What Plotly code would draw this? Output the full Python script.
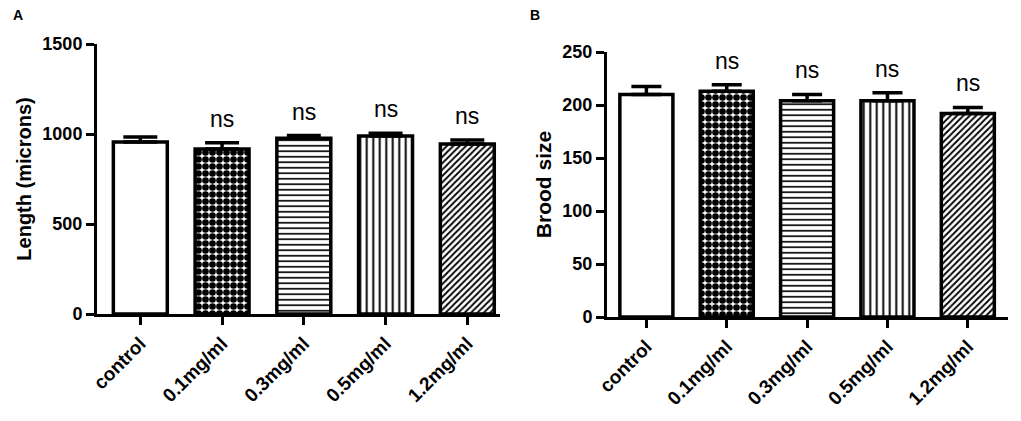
import plotly.graph_objects as go
from plotly.subplots import make_subplots

# data
groups = ["control", "0.1mg/ml", "0.3mg/ml", "0.5mg/ml", "1.2mg/ml"]
length_mean = [955, 917, 976, 989, 944]
length_sem = [28, 35, 15, 15, 22]
brood_mean = [210, 213, 204, 204, 192]
brood_sem = [7.5, 6, 6, 7.5, 5.7]
sig_labels = ["", "ns", "ns", "ns", "ns"]
patterns = ["", ".", "-", "|", "/"]

FONT = "Liberation Sans, Arial, sans-serif"
W, H = 1021, 421
OFF = 8  # page body margin shifts the figure, compensate for it


def px_x(v):
    return (v - OFF) / W


def px_y(v):
    return (H - (v - OFF)) / H


fig = make_subplots(rows=1, cols=2)


def add_panel(means, sems, col, capw):
    fig.add_trace(go.Bar(
        x=groups, y=means, width=0.66,
        marker=dict(
            color="white",
            line=dict(color="black", width=3.5),
            pattern=dict(shape=patterns, fgcolor="black", bgcolor="white", fgopacity=1,
                         size=[7, 7, 5.5, 6.5, 4.5], solidity=[0.3, 0.7, 0.3, 0.3, 0.4]),
        ),
        error_y=dict(type="data", symmetric=False, array=sems,
                     arrayminus=[0] * len(sems), color="black",
                     thickness=3.5, width=capw),
        showlegend=False,
    ), row=1, col=col)
    xref = "x" if col == 1 else "x2"
    yref = "y" if col == 1 else "y2"
    for g, m, s, lab in zip(groups, means, sems, sig_labels):
        if lab:
            fig.add_annotation(x=g, y=m + s, xref=xref, yref=yref, text=lab,
                               showarrow=False, yanchor="middle", yshift=24,
                               font=dict(family=FONT, size=23, color="black"))


add_panel(length_mean, length_sem, 1, 17)
add_panel(brood_mean, brood_sem, 2, 15)

axis_common = dict(showline=True, linecolor="black", linewidth=3,
                   ticks="outside", tickwidth=3, tickcolor="black", ticklen=8,
                   showgrid=False, zeroline=False, automargin=False,
                   tickfont=dict(family=FONT, size=18, color="black", weight="bold"))

fig.update_xaxes(**axis_common, tickangle=-45, type="category")
fig.update_xaxes(tickfont=dict(size=19))
fig.update_yaxes(**axis_common)

fig.update_xaxes(domain=[px_x(97), px_x(500)], range=[-0.53, 4.4], row=1, col=1)
fig.update_xaxes(domain=[px_x(607), px_x(1008)], range=[-0.49, 4.5], row=1, col=2)

fig.update_yaxes(domain=[px_y(314), px_y(44)], range=[0, 1500],
                 tickvals=[0, 500, 1000, 1500],
                 title=dict(text="Length (microns)", standoff=6,
                            font=dict(family=FONT, size=20, color="black", weight="bold")),
                 row=1, col=1)
fig.update_yaxes(domain=[px_y(317), px_y(52)], range=[0, 250],
                 tickvals=[0, 50, 100, 150, 200, 250],
                 title=dict(text="Brood size", standoff=6,
                            font=dict(family=FONT, size=21, color="black", weight="bold")),
                 row=1, col=2)

# panel letters
fig.add_annotation(x=px_x(17.5), y=px_y(14.5), xref="paper", yref="paper", text="A",
                   showarrow=False, xanchor="center", yanchor="middle",
                   font=dict(family=FONT, size=14, color="black", weight="bold"))
fig.add_annotation(x=px_x(535), y=px_y(14.5), xref="paper", yref="paper", text="B",
                   showarrow=False, xanchor="center", yanchor="middle",
                   font=dict(family=FONT, size=14, color="black", weight="bold"))

fig.update_layout(width=W, height=H,
                  margin=dict(l=0, r=0, t=0, b=0, autoexpand=False),
                  plot_bgcolor="white", paper_bgcolor="white",
                  font=dict(family=FONT, color="black"))

fig.write_html("out.html")
